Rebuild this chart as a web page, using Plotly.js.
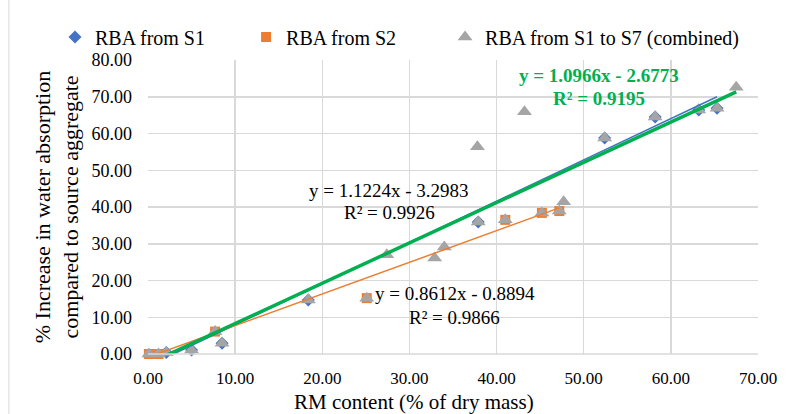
<!DOCTYPE html>
<html>
<head>
<meta charset="utf-8">
<script src="https://cdn.plot.ly/plotly-3.0.1.min.js"></script>
<style>html,body{margin:0;padding:0;background:#fff;}#chart{width:788px;height:414px;}</style>
</head>
<body>
<div id="chart"></div>
<script>
// ---- Data ----
const seriesNames = ["RBA from S1", "RBA from S2", "RBA from S1 to S7 (combined)"];
const s1X = [2.1, 5.0, 8.5, 18.4, 37.9, 52.4, 58.2, 63.2, 65.3];
const s1Y = [0.4, 1.1, 2.9, 14.7, 35.9, 58.8, 64.5, 66.4, 66.9];
const s2X = [0.1, 1.2, 7.7, 25.1, 41.0, 45.2, 47.2];
const s2Y = [0.0, 0.0, 6.1, 15.2, 36.5, 38.4, 38.9];
const allX = [0.1, 1.2, 2.1, 5.0, 7.7, 8.5, 18.4, 25.1, 27.4, 32.9, 34.0, 37.8, 37.9, 41.0, 43.2, 45.2, 47.2, 47.7, 52.4, 58.2, 63.2, 65.3, 67.5];
const allY = [0.0, 0.0, 0.4, 1.1, 6.1, 2.9, 14.7, 15.2, 27.0, 26.1, 29.1, 56.4, 35.9, 36.5, 65.9, 38.4, 38.9, 41.4, 58.8, 64.5, 66.4, 66.9, 72.6];
// Trendline coefficients as printed on the chart
const trendSlopes = [1.1224, 0.8612, 1.0966];
const trendIntercepts = [-3.2983, -0.8894, -2.6773];
const trendR2 = [0.9926, 0.9866, 0.9195];
const xTickVals = [0, 10, 20, 30, 40, 50, 60, 70];
const yTickVals = [0, 10, 20, 30, 40, 50, 60, 70, 80];

const FONT = "Liberation Serif, Times New Roman, serif";
const colors = ["#4472C4", "#ED7D31", "#A5A5A5"];
const trendColors = ["#4472C4", "#ED7D31", "#00B050"];

function trend(xs, i) {
  const lo = Math.min.apply(null, xs), hi = Math.max.apply(null, xs);
  return { x: [lo, hi], y: [trendSlopes[i] * lo + trendIntercepts[i], trendSlopes[i] * hi + trendIntercepts[i]] };
}
function eqText(i) {
  const b = trendIntercepts[i];
  return "y = " + trendSlopes[i].toFixed(4) + "x " + (b < 0 ? "- " : "+ ") + Math.abs(b).toFixed(4);
}

const xs = [s1X, s2X, allX], ys = [s1Y, s2Y, allY];
const traces = [
  { x: s1X, y: s1Y, name: seriesNames[0], type: "scatter", mode: "markers", cliponaxis: false, legend: "legend",
    marker: { symbol: "diamond", size: 10, color: colors[0] } },
  { x: s2X, y: s2Y, name: seriesNames[1], type: "scatter", mode: "markers", cliponaxis: false, legend: "legend2",
    marker: { symbol: "square", size: 10, color: colors[1] } },
  { x: allX, y: allY, name: seriesNames[2], type: "scatter", mode: "markers", cliponaxis: false, legend: "legend3",
    marker: { symbol: "triangle-up", size: 13, color: colors[2] } }
];
[0, 1, 2].forEach(function (i) {
  const t = trend(xs[i], i);
  traces.push({ x: t.x, y: t.y, type: "scatter", mode: "lines", showlegend: false, hoverinfo: "skip",
    line: { color: trendColors[i], width: i === 2 ? 3.5 : 1.5 } });
});

const eqPos = [
  { x: 27.66, y1: 44.4, y2: 38.4, color: "#000000", bold: false },
  { x: 35.2, y1: 16.6, y2: 9.8, color: "#000000", bold: false },
  { x: 51.75, y1: 75.9, y2: 69.4, color: "#00B050", bold: true }
];
const annotations = [];
eqPos.forEach(function (p, i) {
  const w = p.bold ? function (s) { return "<b>" + s + "</b>"; } : function (s) { return s; };
  annotations.push({ x: p.x, y: p.y1, xref: "x", yref: "y", text: w(eqText(i)), showarrow: false,
    xanchor: "center", yanchor: "middle", font: { family: FONT, size: 19, color: p.color } });
  annotations.push({ x: p.x, y: p.y2, xref: "x", yref: "y", text: w("R² = " + trendR2[i].toFixed(4)), showarrow: false,
    xanchor: "center", yanchor: "middle", font: { family: FONT, size: 19, color: p.color } });
});
annotations.push({ x: 0.436, y: -0.162, xref: "paper", yref: "paper", text: "RM content (% of dry mass)",
  showarrow: false, xanchor: "center", yanchor: "middle", font: { family: FONT, size: 21, color: "#000" } });

function legendAt(x) {
  return { orientation: "h", x: x, xanchor: "left", y: 1.078, yanchor: "middle",
    font: { family: FONT, size: 20, color: "#000" }, bgcolor: "rgba(0,0,0,0)" };
}

const layout = {
  width: 788, height: 414,
  margin: { l: 148, r: 30, t: 60, b: 60 },
  paper_bgcolor: "#fff", plot_bgcolor: "#fff",
  font: { family: FONT, color: "#000" },
  showlegend: true,
  legend: legendAt(-0.1525),
  legend2: legendAt(0.1608),
  legend3: legendAt(0.487),
  xaxis: { range: [0, 70], tickvals: xTickVals, tickformat: ".2f", showgrid: true, gridcolor: "#d9d9d9", gridwidth: 1.5,
    zeroline: false, showline: false, ticks: "", ticklabelstandoff: 12,
    tickfont: { family: FONT, size: 17, color: "#000" }, fixedrange: true },
  yaxis: { range: [0, 80], tickvals: yTickVals, tickformat: ".2f", showgrid: true, gridcolor: "#d9d9d9", gridwidth: 1.5,
    zeroline: false, showline: false, ticks: "", ticklabelstandoff: 15,
    tickfont: { family: FONT, size: 18, color: "#000" }, fixedrange: true,
    title: { text: "% Increase in water absorption<br>compared to source aggregate", standoff: 6,
      font: { family: FONT, size: 22, color: "#000" } } },
  annotations: annotations,
  shapes: [
    { type: "line", xref: "paper", yref: "paper", x0: 0, x1: 1, y0: 0, y1: 0, line: { color: "#d9d9d9", width: 1.5 } },
    { type: "line", xref: "paper", yref: "paper", x0: -0.228, x1: -0.228, y0: -0.21, y1: 1.21, line: { color: "#d9d9d9", width: 1 } }
  ]
};
Plotly.newPlot("chart", traces, layout, { displayModeBar: false, staticPlot: true });
</script>
</body>
</html>
